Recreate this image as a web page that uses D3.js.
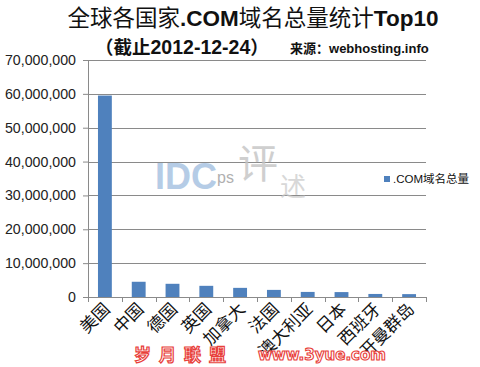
<!DOCTYPE html>
<html><head><meta charset="utf-8">
<script src="https://cdn.jsdelivr.net/npm/d3@7"></script>
<style>body{margin:0;background:#fff}svg{display:block}</style>
</head><body>
<script>
const categories = ["美国","中国","德国","英国","加拿大","法国","澳大利亚","日本","西班牙","开曼群岛"];
const values = [59500000,4500000,3900000,3300000,2700000,2100000,1500000,1450000,900000,850000];
const yTicks = [0,10000000,20000000,30000000,40000000,50000000,60000000,70000000];
const seriesName = ".COM域名总量";

const W=480,H=367;
const svg=d3.select("body").append("svg").attr("width",W).attr("height",H);
const pL=88,pR=426,pT=60,pB=297;
const x=d3.scaleBand().domain(categories).range([pL,pR]).paddingInner(0.59).paddingOuter(0.295);
const y=d3.scaleLinear().domain([0,70000000]).range([pB,pT]);

// gridlines
svg.append("g").selectAll("line").data(yTicks.filter(d=>d>0)).join("line")
 .attr("x1",pL).attr("x2",pR).attr("y1",d=>Math.round(y(d))+0.5).attr("y2",d=>Math.round(y(d))+0.5)
 .attr("stroke","#8a8a8a").attr("stroke-width",1);

// watermark IDCps 评述
const wm=svg.append("g");
wm.append("text").attr("x",155).attr("y",189).attr("font-family","Arial, Liberation Sans, sans-serif")
 .attr("font-weight","bold").attr("font-size",36).attr("fill","#a9c4e2").attr("opacity",0.85).text("IDC");
wm.append("text").attr("x",217).attr("y",183).attr("font-family","Arial, Liberation Sans, sans-serif")
 .attr("font-size",16).attr("fill","#b0b0b0").text("ps");
wm.append("text").attr("x",238).attr("y",178).attr("font-family","Noto Sans CJK SC").attr("font-size",40)
 .attr("fill","#c4c4c4").attr("opacity",0.8).text("评");
wm.append("text").attr("x",280).attr("y",196).attr("font-family","Noto Sans CJK SC").attr("font-size",26)
 .attr("fill","#c8c8c8").attr("opacity",0.7).text("述");

// bars
svg.append("g").selectAll("rect").data(values).join("rect")
 .attr("x",(d,i)=>x(categories[i])).attr("width",x.bandwidth())
 .attr("y",d=>y(d)).attr("height",d=>pB-y(d)).attr("fill","#4f81bd");

// y axis
const ya=svg.append("g").attr("transform",`translate(${pL},0)`)
 .call(d3.axisLeft(y).tickValues(yTicks).tickSize(5).tickSizeOuter(0).tickFormat(d3.format(",")));
ya.select(".domain").attr("stroke","#8a8a8a");
ya.selectAll(".tick line").attr("stroke","#8a8a8a");
ya.selectAll("text").attr("font-family","Arial, Liberation Sans, sans-serif").attr("font-size",14.2)
 .attr("fill","#222").attr("dx",-4);

// x axis
const xa=svg.append("g").attr("transform",`translate(0,${pB})`)
 .call(d3.axisBottom(x).tickSize(0).tickSizeOuter(0));
xa.select(".domain").attr("stroke","#8a8a8a");
const bw=x.step();
svg.append("g").selectAll("line").data(d3.range(categories.length+1)).join("line")
 .attr("x1",i=>Math.round(pL+i*bw)+0.5).attr("x2",i=>Math.round(pL+i*bw)+0.5)
 .attr("y1",pB).attr("y2",pB+5).attr("stroke","#8a8a8a");
xa.selectAll("text").attr("font-family","Noto Sans CJK SC").attr("font-size",17).attr("fill","#111")
 .attr("text-anchor","end").attr("dy",0).attr("transform","translate(4,11) rotate(-45)");

// legend
svg.append("rect").attr("x",384).attr("y",176).attr("width",6).attr("height",6).attr("fill","#4f81bd");
svg.append("text").attr("x",393).attr("y",183).attr("font-family","Arial, Liberation Sans, Noto Sans CJK SC")
 .attr("font-size",11.5).attr("fill","#111").text(seriesName);

// title
const t=svg.append("text").attr("x",253).attr("y",26).attr("text-anchor","middle").attr("font-size",22.5).attr("fill","#111");
t.append("tspan").attr("font-family","Noto Sans CJK SC").text("全球各国家");
t.append("tspan").attr("font-family","Arial, Liberation Sans").attr("font-weight","bold").text(".COM");
t.append("tspan").attr("font-family","Noto Sans CJK SC").text("域名总量统计");
t.append("tspan").attr("font-family","Arial, Liberation Sans").attr("font-weight","bold").text("Top10");
const t2=svg.append("text").attr("x",95).attr("y",54).attr("font-size",18.5).attr("font-weight","bold").attr("fill","#111");
t2.append("tspan").attr("font-family","Noto Sans CJK SC").text("（截止");
t2.append("tspan").attr("font-family","Arial, Liberation Sans").attr("font-size",19.5).text("2012-12-24");
t2.append("tspan").attr("font-family","Noto Sans CJK SC").text("）");
const t3=svg.append("text").attr("x",290).attr("y",53).attr("font-size",13).attr("font-weight","bold").attr("fill","#111");
t3.append("tspan").attr("font-family","Noto Sans CJK SC").text("来源：");
t3.append("tspan").attr("font-family","Arial, Liberation Sans").text("webhosting.info");

// bottom watermark
svg.append("text").attr("x",134).attr("y",361).attr("font-family","Noto Sans CJK SC").attr("font-weight","bold")
 .attr("font-size",17).attr("fill","#fff").attr("stroke","#e8403a").attr("stroke-width",1.2)
 .attr("letter-spacing",8).text("岁月联盟");
svg.append("text").attr("x",258).attr("y",360).attr("font-family","Arial Black, DejaVu Sans, sans-serif").attr("font-weight","bold")
 .attr("font-size",15).attr("fill","#fff").attr("stroke","#e8403a").attr("stroke-width",1.1)
 .text("www.3yue.com");
</script>
</body></html>
